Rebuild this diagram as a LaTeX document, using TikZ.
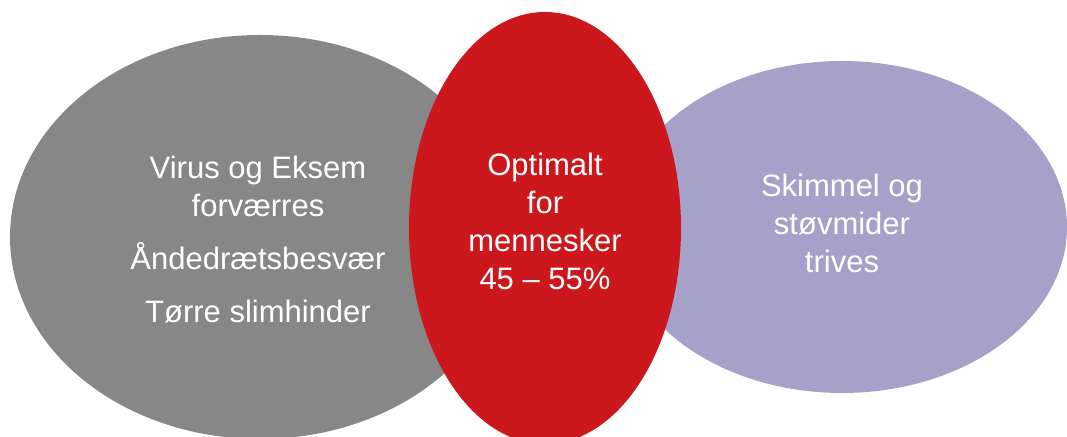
\documentclass[tikz,border=0pt]{standalone}
\usepackage{fontspec}
\setmainfont{Liberation Sans}
\usepackage{tikz}
\usetikzlibrary{shapes.geometric}
\definecolor{blobgrey}{HTML}{878787}
\definecolor{blobred}{HTML}{CC171D}
\definecolor{bloblilac}{HTML}{A6A1C9}

\begin{document}
\begin{tikzpicture}[
        x=1pt, y=1pt,
        blob/.style={ellipse, draw=none, inner sep=0pt, outer sep=0pt},
        label/.style={text=white, align=center, font=\fontsize{31}{38}\selectfont}
    ]
        \useasboundingbox (0,0) rectangle (1067,436);
        \clip (0,0) rectangle (1067,436);

        % Ellipses
        \node[blob, fill=blobgrey, minimum width=500, minimum height=404] (grey) at (260,199) {};
        \node[blob, fill=bloblilac, minimum width=450, minimum height=332] (lilac) at (842,209) {};
        \node[blob, fill=blobred, minimum width=272, minimum height=432] (red) at (545,208) {};

        % Texts
        \node[label] (greytext) at (258,196) {Virus og Eksem\\forværres\\[15pt]Åndedrætsbesvær\\[15pt]Tørre slimhinder};
        \node[label] (redtext) at (545,215) {Optimalt\\for\\mennesker\\45 – 55\%};
        \node[label] (lilactext) at (842,213) {Skimmel og\\støvmider\\trives};
    \end{tikzpicture}
\end{document}
